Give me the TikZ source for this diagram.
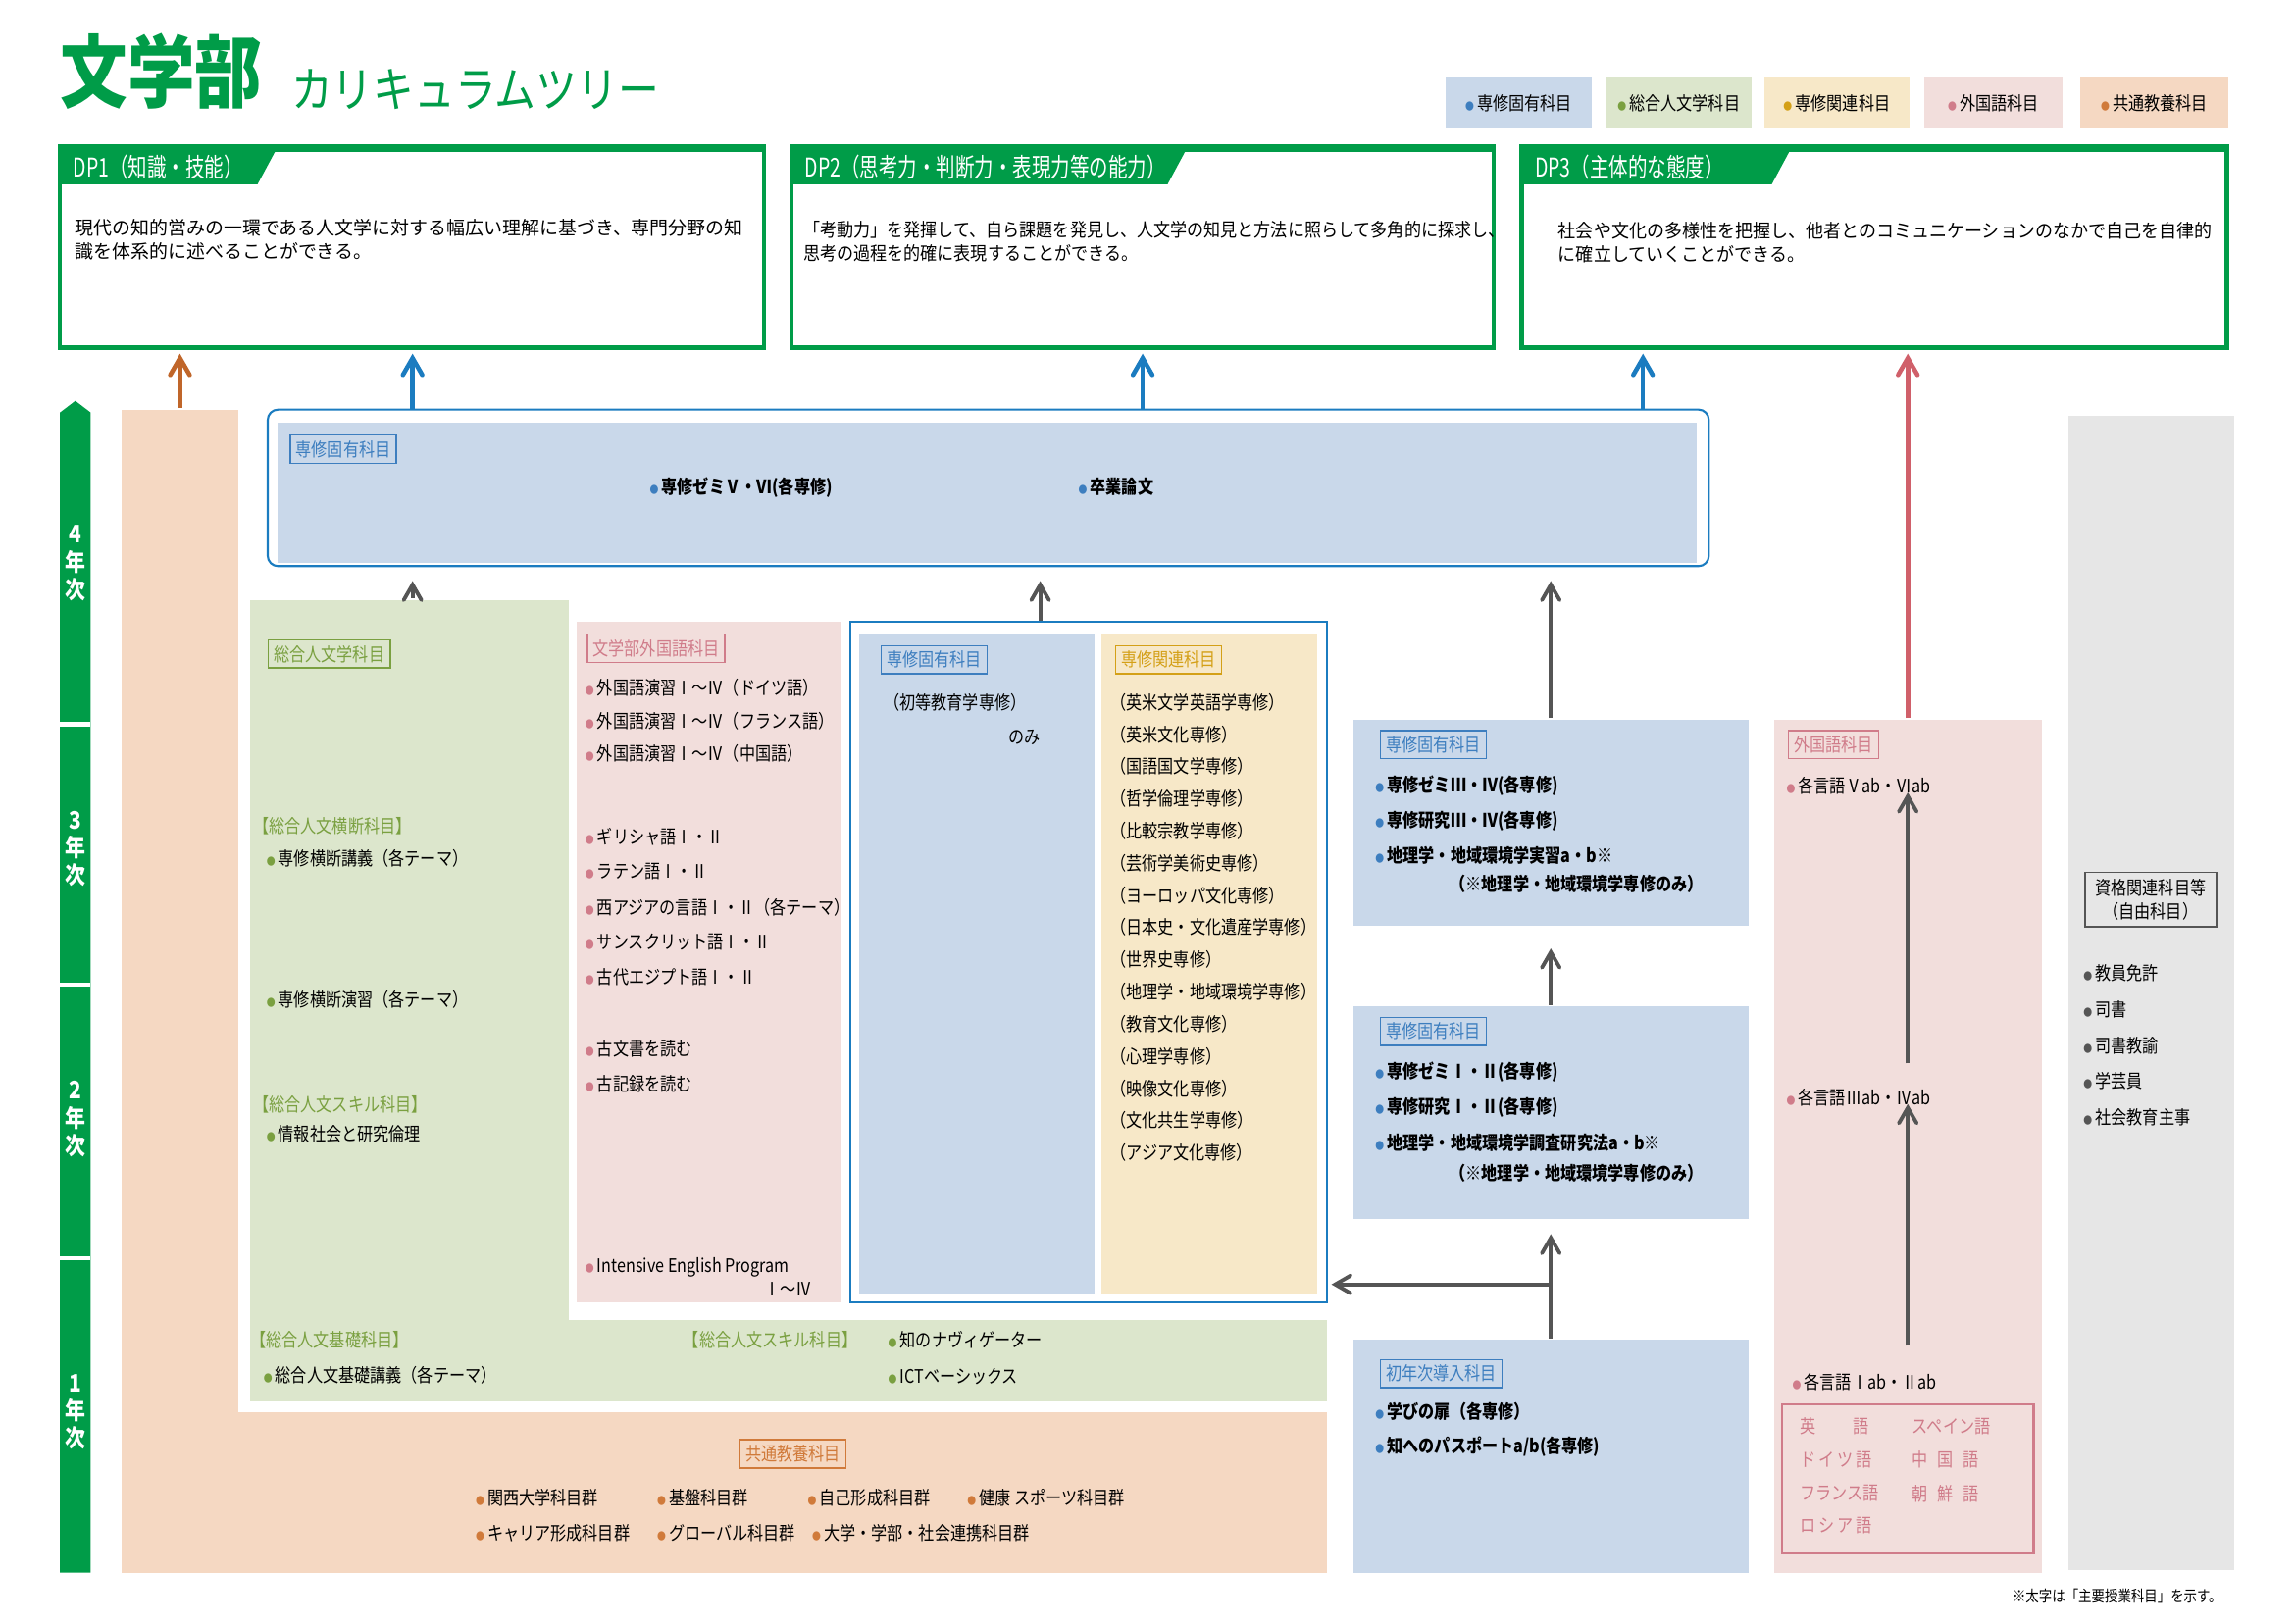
\documentclass[tikz,border=0pt]{standalone}
\usepackage{fontspec}
\setmainfont{Noto Sans CJK JP}[FakeStretch=0.85]
\newfontfamily\hdf{Noto Sans CJK JP}[FakeStretch=0.74]
\newfontfamily\dpw{Noto Sans CJK JP}
\newfontfamily\dpn{Noto Sans CJK JP}[FakeStretch=0.9]
\newfontfamily\dpm{Noto Sans CJK JP}[FakeStretch=0.95]
\usetikzlibrary{positioning,arrows,fit,calc}
\definecolor{dpg}{RGB}{0,156,72}
\definecolor{fblue}{HTML}{C9D8EA}
\definecolor{fgreen}{HTML}{DCE6CC}
\definecolor{fyel}{HTML}{F7E8C8}
\definecolor{fpink}{HTML}{F2DEDC}
\definecolor{foran}{HTML}{F5D8C2}
\definecolor{fgray}{HTML}{E6E6E6}
\definecolor{tblue}{HTML}{3D7EBF}
\definecolor{tgreen}{HTML}{7AA040}
\definecolor{tyel}{HTML}{D4A017}
\definecolor{tpink}{HTML}{D07C8A}
\definecolor{toran}{HTML}{D07A3A}
\definecolor{aoran}{HTML}{C0662A}
\definecolor{ablue}{HTML}{1B7CC0}
\definecolor{ared}{HTML}{D0606A}
\definecolor{agray}{HTML}{555555}
\newcommand{\fs}{\fontsize{5.4pt}{6.8pt}\selectfont}
\newcommand{\dt}[1]{\textcolor{#1}{\scalebox{0.55}{●}}\,}

\begin{document}
\begin{tikzpicture}[x=0.014917cm,y=-0.014917cm,every node/.style={font=\fs,inner sep=0pt},line width=1pt,>=angle 60]
\tikzstyle{area} = [inner sep=0pt,draw=none]
\tikzstyle{dpbox} = [inner sep=0pt,draw=dpg,line width=1.2pt]
\tikzstyle{lab} = [draw,inner sep=1.6pt,line width=0.4pt,anchor=west]
\tikzstyle{it} = [anchor=west]
\tikzstyle{up} = [->,line width=1.1pt,agray]
\tikzstyle{hd} = [anchor=west,text=white,font=\fontsize{7.5pt}{7.5pt}\hdf]
\useasboundingbox (0,0) rectangle (1568,1109.5);
% title and legend
\node[anchor=south west,text=dpg,font=\fontsize{23pt}{23pt}\selectfont\bfseries] (ttl) at (40,76) {文学部};
\node[anchor=south west,text=dpg,font=\fontsize{14pt}{14pt}\selectfont] (sub) at (198,76) {カリキュラムツリー};
\node[area,fill=fblue,fit={(988,53) (1088,88)}] (lg1) {};
\node[area,fill=fgreen,fit={(1098,53) (1197,88)}] (lg2) {};
\node[area,fill=fyel,fit={(1206,53) (1305,88)}] (lg3) {};
\node[area,fill=fpink,fit={(1315,53) (1410,88)}] (lg4) {};
\node[area,fill=foran,fit={(1422,53) (1523,88)}] (lg5) {};
\node at (lg1) {\dt{tblue}専修固有科目};
\node at (lg2) {\dt{tgreen}総合人文学科目};
\node at (lg3) {\dt{tyel}専修関連科目};
\node at (lg4) {\dt{tpink}外国語科目};
\node at (lg5) {\dt{toran}共通教養科目};
% DP boxes
\node[dpbox,fit={(41,100) (522,238)}] (dp1) {};
\node[dpbox,fit={(541,100) (1021,238)}] (dp2) {};
\node[dpbox,fit={(1040,100) (1522,238)}] (dp3) {};
\foreach \x/\r/\w in {41/522/149,541/1021/271,1040/1522/185}{
  \fill[dpg] (\x,99) rectangle (\r,104);
  \fill[dpg] (\x,236) rectangle (\r,239);
  \fill[dpg] (\x,100) -- (\x+\w,100) -- (\x+\w-14,126) -- (\x,126) -- cycle;
}
\node[hd] (h1) at (49,114) {DP1（知識・技能）};
\node[hd] (h2) at (549,114) {DP2（思考力・判断力・表現力等の能力）};
\node[hd] (h3) at (1048,114) {DP3（主体的な態度）};
\node[it,align=left,font=\fs\dpw] (t1) at (50,164) {現代の知的営みの一環である人文学に対する幅広い理解に基づき、専門分野の知\\識を体系的に述べることができる。};
\node[it,align=left,font=\fs\dpn] (t2) at (548,165) {「考動力」を発揮して、自ら課題を発見し、人文学の知見と方法に照らして多角的に探求し、\\ 思考の過程を的確に表現することができる。};
\node[it,align=left,font=\fs\dpm] (t3) at (1064,166) {社会や文化の多様性を把握し、他者とのコミュニケーションのなかで自己を自律的\\に確立していくことができる。};
% year bar
\fill[dpg] (41,1075) -- (41,282) -- (51.5,274) -- (62,282) -- (62,1075) -- cycle;
\foreach \y in {495,673,860} \draw[white,line width=1.2pt] (41,\y) -- (62,\y);
\foreach \y/\n in {385/4,580/3,765/2,965/1}
  \node[text=white,align=center,font=\fontsize{7pt}{8pt}\selectfont\bfseries] (yr\n) at (51.5,\y) {\n\\年\\次};
% background areas
\node[area,fill=foran,fit={(83,280) (163,1075)}] (orc) {};
\node[area,fill=foran,fit={(83,965) (907,1075)}] (orb) {};
\node[area,fill=fgreen,fit={(171,410) (389,958)}] (grc) {};
\node[area,fill=fgreen,fit={(171,902) (907,958)}] (grb) {};
\node[area,fill=fpink,fit={(394,425) (575,890)}] (pkc) {};
\node[area,draw=ablue,line width=0.6pt,fill=white,fit={(581,425) (907,890)}] (fr) {};
\node[area,fill=fblue,fit={(587,433) (748,885)}] (blc) {};
\node[area,fill=fyel,fit={(753,433) (900,885)}] (yec) {};
\node[area,draw=ablue,line width=0.6pt,rounded corners=3pt,fit={(183,280) (1168,387)}] (y4) {};
\node[area,fill=fblue,fit={(190,289) (1160,385)}] (y4in) {};
\node[area,fill=fblue,fit={(925,492) (1195,633)}] (b3) {};
\node[area,fill=fblue,fit={(925,688) (1195,833)}] (b2) {};
\node[area,fill=fblue,fit={(925,916) (1195,1075)}] (b1) {};
\node[area,fill=fpink,fit={(1213,492) (1396,1075)}] (pkr) {};
\node[area,fill=fgray,fit={(1414,284) (1527,1073)}] (gyc) {};
% connectors
\coordinate (xa) at (123,0); \coordinate (xb) at (282,0); \coordinate (xc) at (781,0);
\coordinate (xd) at (1123,0); \coordinate (xe) at (1304,0); \coordinate (xf) at (711,0);
\coordinate (xg) at (1060,0); \coordinate (xh) at (1060,878);
\draw[->,aoran,line width=1.3pt] (orc.north -| xa) -- ([yshift=-1pt]dp1.south -| xa);
\draw[->,ablue,line width=1.3pt] (y4.north -| xb) -- ([yshift=-1pt]dp1.south -| xb);
\draw[->,ablue,line width=1.3pt] (y4.north -| xc) -- ([yshift=-1pt]dp2.south -| xc);
\draw[->,ablue,line width=1.3pt] (y4.north -| xd) -- ([yshift=-1pt]dp3.south -| xd);
\draw[->,ared,line width=1.3pt] (pkr.north -| xe) -- ([yshift=-1pt]dp3.south -| xe);
\draw[up] (grc.north -| xb) -- ([yshift=-4pt]y4.south -| xb);
\draw[up] (fr.north -| xf) -- ([yshift=-4pt]y4.south -| xf);
\draw[up] (b3.north -| xg) -- ([yshift=-4pt]y4.south -| xg);
\draw[up] (b2.north -| xg) -- ([yshift=-6pt]b3.south -| xg);
\draw[up] (b1.north -| xg) -- ([yshift=-4pt]b2.south -| xg);
\draw[up] (xh) -- ([xshift=1pt]fr.east |- xh);
% year 4
\node[lab,draw=tblue,text=tblue] (l4) at (198,307) {専修固有科目};
\node[it,font=\fs\bfseries] (s4a) at (443,333) {\dt{tblue}専修ゼミⅤ・Ⅵ(各専修)};
\node[it,font=\fs\bfseries] (s4b) at (736,333) {\dt{tblue}卒業論文};
% green column
\node[lab,draw=tgreen,text=tgreen] (lg) at (183,447) {総合人文学科目};
\node[it,text=tgreen] (g1) at (172,565) {【総合人文横断科目】};
\node[it] (g2) at (181,587) {\dt{tgreen}専修横断講義（各テーマ）};
\node[it] (g3) at (181,683) {\dt{tgreen}専修横断演習（各テーマ）};
\node[it,text=tgreen] (g4) at (172,755) {【総合人文スキル科目】};
\node[it] (g5) at (181,775) {\dt{tgreen}情報社会と研究倫理};
\node[it,text=tgreen] (g6) at (170,916) {【総合人文基礎科目】};
\node[it] (g7) at (179,940) {\dt{tgreen}総合人文基礎講義（各テーマ）};
\node[it,text=tgreen] (g8) at (466,916) {【総合人文スキル科目】};
\node[it] (g9) at (606,916) {\dt{tgreen}知のナヴィゲーター};
\node[it] (g10) at (606,941) {\dt{tgreen}ICTベーシックス};
% pink column
\node[lab,draw=tpink,text=tpink] (lp) at (401,443) {文学部外国語科目};
\foreach \y/\t in {470/外国語演習Ⅰ～Ⅳ（ドイツ語）,493/外国語演習Ⅰ～Ⅳ（フランス語）,515/外国語演習Ⅰ～Ⅳ（中国語）,572/ギリシャ語Ⅰ・Ⅱ,596/ラテン語Ⅰ・Ⅱ,620/西アジアの言語Ⅰ・Ⅱ（各テーマ）,644/サンスクリット語Ⅰ・Ⅱ,668/古代エジプト語Ⅰ・Ⅱ,717/古文書を読む,741/古記録を読む,866/Intensive English Program}
  \node[it] (p\y) at (399,\y) {\dt{tpink}\t};
\node[anchor=east] (p881) at (556,881) {Ⅰ～Ⅳ};
% blue / yellow columns
\node[lab,draw=tblue,text=tblue] (lb) at (602,451) {専修固有科目};
\node[it] (bl1) at (603,480) {（初等教育学専修）};
\node[it] (bl2) at (688,504) {のみ};
\node[lab,draw=tyel,text=tyel] (ly) at (762,451) {専修関連科目};
\foreach \t [count=\i from 0] in {英米文学英語学専修,英米文化専修,国語国文学専修,哲学倫理学専修,比較宗教学専修,芸術学美術史専修,ヨーロッパ文化専修,日本史・文化遺産学専修,世界史専修,地理学・地域環境学専修,教育文化専修,心理学専修,映像文化専修,文化共生学専修,アジア文化専修}
  \node[it] (y\i) at (758,480+22*\i) {（\t）};
% right blue boxes
\node[lab,draw=tblue,text=tblue] (l3) at (943,509) {専修固有科目};
\node[it,font=\fs\bfseries] (r3a) at (939,537) {\dt{tblue}専修ゼミⅢ・Ⅳ(各専修)};
\node[it,font=\fs\bfseries] (r3b) at (939,561) {\dt{tblue}専修研究Ⅲ・Ⅳ(各専修)};
\node[it,font=\fs\bfseries] (r3c) at (939,585) {\dt{tblue}地理学・地域環境学実習a・b※};
\node[it,font=\fs\bfseries] (r3d) at (990,604) {（※地理学・地域環境学専修のみ）};
\node[lab,draw=tblue,text=tblue] (l2) at (943,705) {専修固有科目};
\node[it,font=\fs\bfseries] (r2a) at (939,733) {\dt{tblue}専修ゼミⅠ・Ⅱ(各専修)};
\node[it,font=\fs\bfseries] (r2b) at (939,757) {\dt{tblue}専修研究Ⅰ・Ⅱ(各専修)};
\node[it,font=\fs\bfseries] (r2c) at (939,781) {\dt{tblue}地理学・地域環境学調査研究法a・b※};
\node[it,font=\fs\bfseries] (r2d) at (990,802) {（※地理学・地域環境学専修のみ）};
\node[lab,draw=tblue,text=tblue] (l1) at (943,939) {初年次導入科目};
\node[it,font=\fs\bfseries] (r1a) at (939,965) {\dt{tblue}学びの扉（各専修）};
\node[it,font=\fs\bfseries] (r1b) at (939,989) {\dt{tblue}知へのパスポートa/b(各専修)};
% foreign languages
\node[lab,draw=tpink,text=tpink] (lf) at (1222,509) {外国語科目};
\node[it] (f5) at (1220,537) {\dt{tpink}各言語Ⅴab・Ⅵab};
\node[it] (f3) at (1220,750) {\dt{tpink}各言語Ⅲab・Ⅳab};
\node[it] (f1) at (1224,945) {\dt{tpink}各言語Ⅰab・Ⅱab};
\coordinate (fa) at (1304,920); \coordinate (fb) at (1304,727);
\draw[up] (fa) -- ([yshift=-5pt]f3.north -| fa);
\draw[up] (fb) -- ([yshift=-5pt]f5.north -| fb);
\node[area,draw=tpink,line width=0.6pt,fit={(1218,960) (1390,1062)}] (lang) {};
\node[it,text=tpink] (la1) at (1229,975) {英\quad\quad 語};
\node[it,text=tpink] (la2) at (1306,975) {スペイン語};
\node[it,text=tpink] (la3) at (1229,998) {ド\,イ\,ツ\,語};
\node[it,text=tpink] (la4) at (1306,998) {中\enspace 国\enspace 語};
\node[it,text=tpink] (la5) at (1229,1021) {フランス語};
\node[it,text=tpink] (la6) at (1306,1021) {朝\enspace 鮮\enspace 語};
\node[it,text=tpink] (la7) at (1229,1043) {ロ\,シ\,ア\,語};
% licence related
\node[draw=agray,line width=0.5pt,align=center,inner sep=2pt,minimum width=90*0.014917cm] (lq) at (1470,615) {資格関連科目等\\（自由科目）};
\foreach \y/\t in {665/教員免許,690/司書,715/司書教諭,739/学芸員,764/社会教育主事}
  \node[it] (q\y) at (1423,\y) {\dt{agray}\t};
% common education
\node[draw=toran,text=toran,line width=0.5pt,inner sep=1.6pt] (lo) at (542,994) {共通教養科目};
\node[it] (o1) at (324,1024) {\dt{toran}関西大学科目群};
\node[it] (o2) at (448,1024) {\dt{toran}基盤科目群};
\node[it] (o3) at (551,1024) {\dt{toran}自己形成科目群};
\node[it] (o4) at (660,1024) {\dt{toran}健康 スポーツ科目群};
\node[it] (o5) at (324,1048) {\dt{toran}キャリア形成科目群};
\node[it] (o6) at (448,1048) {\dt{toran}グローバル科目群};
\node[it] (o7) at (554,1048) {\dt{toran}大学・学部・社会連携科目群};
\node[anchor=east,font=\fontsize{4.5pt}{5pt}\selectfont] (note) at (1520,1091) {※太字は「主要授業科目」を示す。};
\end{tikzpicture}
\end{document}
